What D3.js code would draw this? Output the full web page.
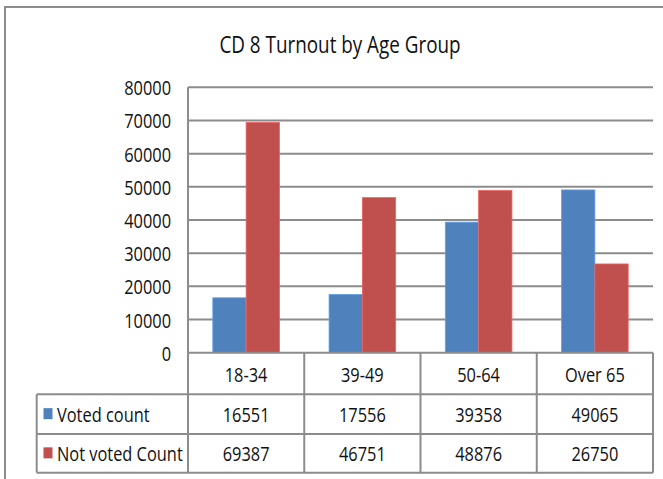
<!DOCTYPE html>
<html>

<head>
  <meta charset="UTF-8">
  <title>CD 8 Turnout by Age Group</title>
  <script src="https://d3js.org/d3.v7.min.js"></script>
  <style>
    body {
      margin: 0;
      background: #fff;
    }

    svg text {
      font-family: "Open Sans", sans-serif;
      fill: #111;
    }

    .grid line,
    .tbl line {
      stroke: #8c8c8c;
      stroke-width: 2;
    }
  </style>
</head>

<body>
  <div id="chart"></div>
  <script>
    // chart data
    var categories = ["18-34", "39-49", "50-64", "Over 65"];
    var seriesNames = ["Voted count", "Not voted Count"];
    var voted = [16551, 17556, 39358, 49065];
    var notVoted = [69387, 46751, 48876, 26750];
    var yTicks = [0, 10000, 20000, 30000, 40000, 50000, 60000, 70000, 80000];
    var colors = ["#4F81BD", "#C0504D"];

    var W = 663, H = 479;
    var plotLeft = 188, plotRight = 653, plotTop = 87.3, plotBottom = 352.7;
    var tableLeft = 36.7;
    var rowLines = [352.7, 394.3, 434, 472.7];
    var sx = 0.82; // narrow the font horizontally, like Calibri

    var svg = d3.select("#chart").append("svg")
      .attr("width", W)
      .attr("height", H);

    // outer chart border (runs off the right/bottom edge)
    svg.append("rect")
      .attr("x", 5).attr("y", 7)
      .attr("width", 700).attr("height", 500)
      .attr("fill", "none")
      .attr("stroke", "#8c8c8c")
      .attr("stroke-width", 2);

    function label(g, text, x, y, size, anchor) {
      return g.append("text")
        .attr("transform", "translate(" + x + "," + y + ") scale(" + sx + ",1)")
        .attr("text-anchor", anchor || "middle")
        .style("font-size", size + "px")
        .text(text);
    }

    label(svg, "CD 8 Turnout by Age Group", 340, 53, 23);

    var x = d3.scaleBand()
      .domain(categories)
      .range([plotLeft, plotRight])
      .paddingInner(0)
      .paddingOuter(0);

    var xs = d3.scaleBand()
      .domain(d3.range(seriesNames.length))
      .range([0, x.bandwidth()])
      .paddingInner(0)
      .paddingOuter(0.745);

    var y = d3.scaleLinear()
      .domain([0, 80000])
      .range([plotBottom, plotTop]);

    // gridlines
    var grid = svg.append("g").attr("class", "grid");
    grid.selectAll("line")
      .data(yTicks.filter(function (d) { return d > 0; }))
      .enter().append("line")
      .attr("x1", plotLeft).attr("x2", plotRight)
      .attr("y1", function (d) { return y(d); })
      .attr("y2", function (d) { return y(d); });

    // y axis labels via d3 axis
    var yAxis = svg.append("g")
      .attr("transform", "translate(" + plotLeft + ",0)")
      .call(d3.axisLeft(y).tickValues(yTicks).tickSize(0).tickPadding(17).tickFormat(d3.format("d")));
    yAxis.select(".domain").remove();
    yAxis.selectAll("text")
      .style("font-size", "20px")
      .attr("dy", null)
      .attr("y", 7.5)
      .attr("transform", "scale(" + sx + ",1)")
      .attr("x", -17 / sx)
      .attr("fill", "#111");

    // bars
    var series = [voted, notVoted];
    var groups = svg.selectAll(".series")
      .data(series)
      .enter().append("g")
      .attr("class", "series")
      .attr("fill", function (d, i) { return colors[i]; })
      .attr("stroke", function (d, i) { return d3.color(colors[i]).brighter(0.6); })
      .attr("stroke-width", 0.8);

    groups.each(function (vals, si) {
      d3.select(this).selectAll("rect")
        .data(vals)
        .enter().append("rect")
        .attr("x", function (d, i) { return x(categories[i]) + xs(si); })
        .attr("y", function (d) { return y(d); })
        .attr("width", xs.bandwidth())
        .attr("height", function (d) { return y(0) - y(d); });
    });

    // data table lines
    var tbl = svg.append("g").attr("class", "tbl");
    rowLines.forEach(function (ly, i) {
      tbl.append("line")
        .attr("x1", i === 0 ? plotLeft : tableLeft).attr("x2", plotRight)
        .attr("y1", ly).attr("y2", ly);
    });
    // plot left edge, from top of plot through table
    tbl.append("line")
      .attr("x1", plotLeft).attr("x2", plotLeft)
      .attr("y1", plotTop).attr("y2", rowLines[3]);
    tbl.append("line")
      .attr("x1", tableLeft).attr("x2", tableLeft)
      .attr("y1", rowLines[1]).attr("y2", rowLines[3]);
    categories.forEach(function (c) {
      var xr = x(c) + x.bandwidth();
      tbl.append("line")
        .attr("x1", xr).attr("x2", xr)
        .attr("y1", rowLines[0]).attr("y2", rowLines[3]);
    });

    // header row: category names
    categories.forEach(function (c) {
      label(svg, c, x(c) + x.bandwidth() / 2, (rowLines[0] + rowLines[1]) / 2 + 8, 20);
    });

    // data rows
    series.forEach(function (vals, si) {
      var mid = (rowLines[si + 1] + rowLines[si + 2]) / 2;
      svg.append("rect")
        .attr("x", 43.5).attr("y", mid - 6)
        .attr("width", 9).attr("height", 11)
        .attr("fill", colors[si]);
      label(svg, seriesNames[si], 57, mid + 8, 20, "start");
      vals.forEach(function (v, i) {
        label(svg, v, x(categories[i]) + x.bandwidth() / 2, mid + 8, 20);
      });
    });
  </script>
</body>

</html>
